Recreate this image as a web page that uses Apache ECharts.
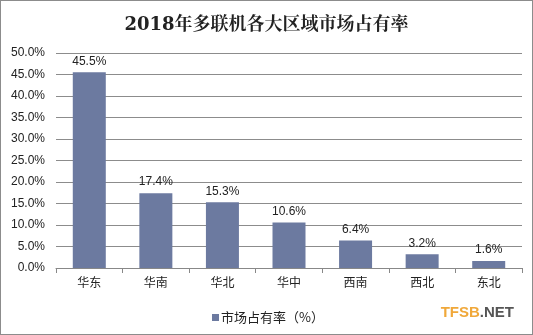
<!DOCTYPE html>
<html>
<head>
<meta charset="utf-8">
<script src="https://cdn.jsdelivr.net/npm/echarts@6/dist/echarts.min.js"></script>
<style>
html,body{margin:0;padding:0;background:#fff;}
#chart{width:533px;height:335px;box-sizing:border-box;border:1px solid #8c8c8c;}
</style>
</head>
<body>
<div id="chart"></div>
<script>
// Regional market share of VRF systems, 2018
const regions = ['华东', '华南', '华北', '华中', '西南', '西北', '东北'];
const shares = [45.5, 17.4, 15.3, 10.6, 6.4, 3.2, 1.6];
const seriesName = '市场占有率（%）';
const titleText = '2018年多联机各大区域市场占有率';

const chart = echarts.init(document.getElementById('chart'), null, {renderer: 'canvas'});
chart.setOption({
  animation: false,
  backgroundColor: '#fff',
  title: {
    text: titleText,
    left: 'center',
    top: 10,
    textStyle: {fontFamily: 'DejaVu Serif, Noto Serif CJK SC, serif', fontSize: 18, fontWeight: 'bold', color: '#222'}
  },
  legend: {
    data: [seriesName],
    left: 206,
    top: 305,
    icon: 'rect',
    itemWidth: 7,
    itemHeight: 7,
    itemGap: 2,
    textStyle: {fontFamily: 'Noto Sans CJK SC, sans-serif', fontSize: 13, color: '#222', padding: [0, 0, 0, -3]}
  },
  graphic: [{
    type: 'text',
    right: 18,
    top: 304,
    style: {
      rich: {
        a: {fill: '#f0a83a', fontFamily: 'Liberation Sans, Arial, sans-serif', fontWeight: 'bold', fontSize: 15},
        b: {fill: '#555', fontFamily: 'Liberation Sans, Arial, sans-serif', fontWeight: 'bold', fontSize: 15}
      },
      text: '{a|TFSB}{b|.NET}'
    }
  }],
  grid: {left: 55, right: 10, top: 52, bottom: 66, containLabel: false},
  xAxis: {
    type: 'category',
    data: regions,
    axisLine: {lineStyle: {color: '#888', width: 1}},
    axisTick: {show: true, alignWithLabel: false, length: 5, lineStyle: {color: '#888'}},
    axisLabel: {fontFamily: 'Noto Sans CJK SC, sans-serif', fontSize: 12, color: '#222', margin: 8}
  },
  yAxis: {
    type: 'value',
    min: 0,
    max: 50,
    interval: 5,
    axisLine: {show: false},
    axisTick: {show: false},
    axisLabel: {
      fontFamily: 'Liberation Sans, Arial, sans-serif', fontSize: 12, color: '#222', margin: 11,
      formatter: v => v.toFixed(1) + '%'
    },
    splitLine: {lineStyle: {color: '#8c8c8c', width: 1}}
  },
  series: [{
    name: seriesName,
    type: 'bar',
    data: shares,
    barWidth: 33,
    itemStyle: {color: '#6c7aa0'},
    label: {
      show: true,
      position: 'top',
      distance: 5,
      fontFamily: 'Liberation Sans, Arial, sans-serif',
      fontSize: 12,
      color: '#222',
      formatter: p => p.value.toFixed(1) + '%'
    }
  }]
});
</script>
</body>
</html>
